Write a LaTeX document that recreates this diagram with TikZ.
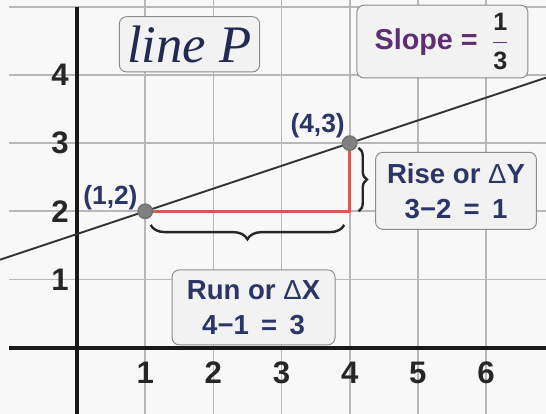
\documentclass[tikz,border=0pt]{standalone}
\usepackage{amsmath}
\usepackage{fontspec}
\setsansfont{Liberation Sans}
\newfontfamily\titlefont{Liberation Serif}
\usetikzlibrary{decorations.pathreplacing}
\definecolor{navy}{HTML}{2B3566}
\definecolor{plum}{HTML}{5E2E72}
\definecolor{runred}{HTML}{D65A55}
\definecolor{boxgray}{HTML}{F2F2F2}
\definecolor{paper}{HTML}{F8F8F8}
\newcommand{\digit}[1]{\hbox{\textcolor{black!85}{\fontsize{10.5}{12}\selectfont #1}}}
\begin{document}
\begin{tikzpicture}[
        num/.style={font=\sffamily\bfseries\fontsize{13}{15}\selectfont, text=black!85},
        dot/.style={circle,fill=gray,draw=black!55,line width=0.6pt,inner sep=0pt,minimum size=6pt},
        coord/.style={font=\sffamily\bfseries\fontsize{11}{13}\selectfont, text=navy},
        card/.style={draw=black!45,fill=boxgray,rounded corners=3pt,align=center,
            font=\sffamily\bfseries\fontsize{11.5}{14.5}\selectfont, text=navy}]
        \fill[paper] (-1.13,-0.97) rectangle (6.88,5.10);
        \useasboundingbox (-1.13,-0.97) rectangle (6.88,5.10);

        % grid and axes
        \foreach \y in {1,...,5}
            \draw[black!28, line width=0.7pt] (-1,\y) -- (6.88,\y);
        \foreach \x in {1,...,6}
            \draw[black!28, line width=0.7pt] (\x,-0.97) -- (\x,5.10);
        \draw[black!90, line width=1.6pt] (-1,0) -- (6.88,0);
        \draw[black!90, line width=1.3pt] (0,-0.97) -- (0,5.0);

        \foreach \k in {1,...,4}
            \node[num] (y\k) at (-0.25,\k) {\k};
        \foreach \k in {1,...,6}
            \node[num] (x\k) at (\k,-0.37) {\k};

        % line P through the two points
        \coordinate (west) at (-1.13,1.29);
        \coordinate (east) at (6.88,3.96);
        \coordinate (corner) at (4,2);
        \draw[black!80, line width=0.8pt] (west) -- (east);
        \draw[runred, line width=1.4pt] (1,2) -- (corner) -- (4,3);
        \node[dot] (a) at (1,2) {};
        \node[dot] (b) at (4,3) {};
        \node[coord] (la) at (0.49,2.2) {(1,2)};
        \node[coord] (lb) at (3.53,3.25) {(4,3)};

        % braces
        \draw[black!85, line width=1pt, decorate, decoration={brace,mirror,amplitude=6pt}]
            (1.08,1.80) -- (3.92,1.80);
        \draw[black!85, line width=1pt, decorate, decoration={brace,amplitude=3.5pt}]
            (4.13,2.93) -- (4.13,2.00);

        % boxes
        \node[card, minimum width=2.03cm, minimum height=0.81cm, text=navy!80!black,
            font=\titlefont\itshape\fontsize{22}{24}\selectfont] (title) at (1.65,4.45) {line P};
        \node[card, minimum width=2.51cm, minimum height=1.01cm, text=plum,
            font=\sffamily\bfseries\fontsize{12}{14}\selectfont] (slope) at (5.36,4.49)
            {Slope =\, $\genfrac{}{}{0.5pt}{0}{\digit{1}}{\digit{3}}$};
        \node[card, minimum width=2.36cm, minimum height=1.13cm] (rise) at (5.56,2.30)
            {Rise or {\mdseries Δ}Y\\3−2 \,=\, 1};
        \node[card, minimum width=2.39cm, minimum height=1.10cm] (run) at (2.59,0.59)
            {Run or {\mdseries Δ}X\\4−1 \,=\, 3};
    \end{tikzpicture}
\end{document}
